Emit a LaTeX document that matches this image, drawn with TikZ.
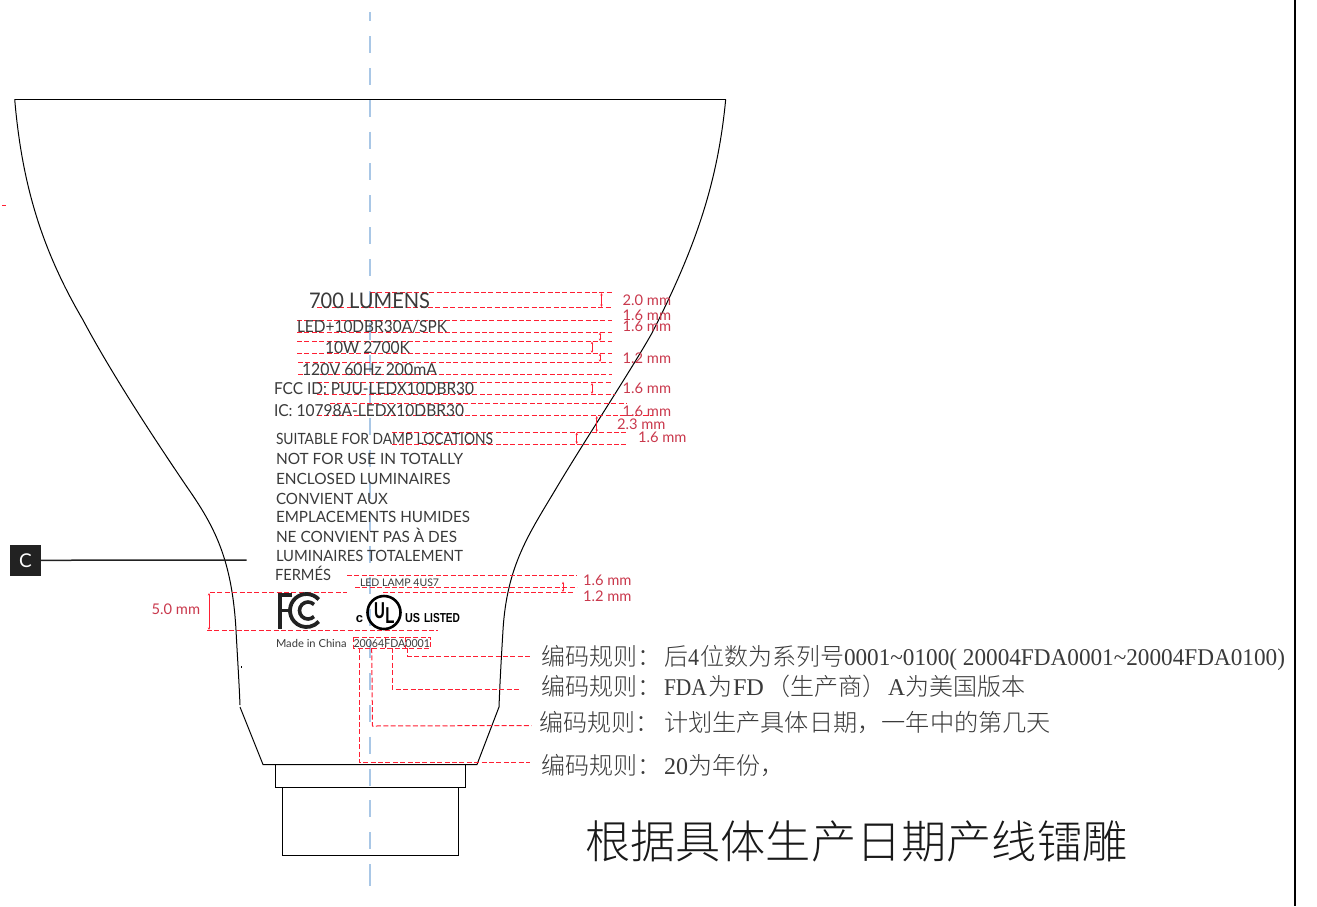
\documentclass[tikz,border=0pt]{standalone}
\usepackage{fontspec}
\usepackage{graphicx}
\setmainfont{Lato}
\newfontfamily\cjk{Noto Sans CJK SC Light}
\newfontfamily\serifl{Liberation Serif}
\newfontfamily\boldl{Liberation Sans}
\usetikzlibrary{arrows.meta}
\definecolor{dimred}{HTML}{FF1F33}
\definecolor{dimtext}{HTML}{C9384C}
\definecolor{labelgray}{HTML}{3A3A3A}
\definecolor{axisblue}{HTML}{A9C7E6}
\definecolor{cbox}{HTML}{222222}
\newcommand{\lat}[1]{{\serifl #1}}
\newcommand{\fw}[2]{\resizebox{#1pt}{\height}{#2}}
\tikzset{
  every node/.style={inner sep=0pt,outer sep=0pt},
  outline/.style={draw=black,line width=1pt},
  reddash/.style={draw=dimred,line width=1pt,dash pattern=on 5pt off 2.4pt},
  redtick/.style={draw=dimred,line width=0.9pt,{Stealth[length=2.6pt,width=2.4pt]}-{Stealth[length=2.6pt,width=2.4pt]}},
  axisdash/.style={draw=axisblue,line width=1.5pt},
  lab/.style={anchor=base west,text=labelgray,font=\fontsize{#1}{#1}\selectfont},
  dimlab/.style={anchor=base west,text=dimtext,font=\fontsize{14.7}{14.7}\selectfont},
  cn/.style={anchor=base west,text=labelgray,font=\fontsize{24}{24}\selectfont\cjk},
  ulbold/.style={font=\fontsize{#1}{#1}\selectfont\boldl\bfseries},
}
\begin{document}
\begin{tikzpicture}[x=1pt,y=-1pt]
\useasboundingbox (0,0) rectangle (1317,906);
% axis
\draw[axisdash] (370,12) -- (370,21);
\foreach \k in {0,...,25}{
  \draw[axisdash] (370,{36+31.85*\k}) -- (370,{53+31.85*\k});
}
\draw[axisdash] (370,864) -- (370,886);
% frame line
\draw[black,line width=2.4pt] (1295,0) -- (1295,906);
% bulb
\draw[outline] (14.7,99.3) -- (725.7,99.3);
\draw[outline] (14.7,99.3) .. controls (22,185) and (42,250) .. (83,320)
  .. controls (100,352) and (130,403) .. (187,487)
  .. controls (215,527) and (232,560) .. (236,630)
  .. controls (237.3,655) and (239,680) .. (240,705);
\draw[outline] (725.7,99.3) .. controls (718,180) and (697,245) .. (652,333)
  .. controls (630,372) and (585,440) .. (557,487)
  .. controls (529,534) and (507,565) .. (503,630)
  .. controls (501.5,655) and (500,680) .. (499,707);
\draw[outline] (240,707) -- (263,764.5) -- (477,764.5) -- (499,707);
\draw[outline] (241,666) -- (241,668);
\draw[outline] (275,764.5) -- (275,787) -- (465,787) -- (465,764.5);
\draw[outline] (282,787) -- (282,855) -- (458,855) -- (458,787);
% red dash rows: x1/x2/y
\foreach \a/\b/\y in {
 370/612/292.3, 317/612/307.3, 297/612/320.3, 297/612/332.3, 297/612/341.3, 297/612/353.3, 298/612/362.3, 298/612/374.3,
 317/612/382.7, 317/615/394.3, 330/627/403.3, 317/653/415.7, 392/627/432.3, 392/627/444,
 347/577/575, 355/577/587.3, 383/575/592.7, 210/347/592.7, 207/438/630}{
  \draw[reddash] (\a,\y) -- (\b,\y);
}
\draw[redtick] (601.5,293) -- (601.5,307);
\draw[redtick] (600,332.5) -- (600,341);
\draw[redtick] (592,341.5) -- (592,353);
\draw[redtick] (600,353.5) -- (600,362);
\draw[redtick] (592,383) -- (592,394);
\draw[redtick] (596.7,416) -- (596.7,432);
\draw[redtick] (576.7,432.5) -- (576.7,444);
\draw[redtick] (563,581.7) -- (563,592);
\draw[redtick] (209,593) -- (209,630);
\draw[draw=dimred,line width=1pt] (2,205.7) -- (6,205.7);
% code box and leaders
\draw[reddash] (353.5,637.3) rectangle (430.7,648);
\draw[reddash] (385.5,637.3) -- (385.5,648);
\draw[reddash] (405.8,637.3) -- (405.8,648);
\draw[reddash] (407.3,648) -- (407.3,656) -- (530,656);
\draw[reddash] (392.3,648) -- (392.3,689) -- (520,689);
\draw[reddash] (371.7,648) -- (372.5,726) -- (531.7,725.5);
\draw[reddash] (359.3,648) -- (359.3,762.5) -- (530,762.5);
% callout
\node[fill=cbox,text=white,minimum width=31pt,minimum height=31pt,font=\fontsize{19}{19}\selectfont] (cb) at (25.5,560.3) {C};
\coordinate (cend) at (246.7,560);
\draw[draw=cbox,line width=1.5pt] (cb) -- (cend);
% label text
\node[lab=21.5] (t1) at (309,308) {\fw{121}{700 LUMENS}};
\node[lab=16.5] (t2) at (297,332) {\fw{150}{LED+10DBR30A/SPK}};
\node[lab=16.5] (t3) at (325,353) {\fw{85}{10W 2700K}};
\node[lab=16.5] (t4) at (302,375) {\fw{135}{120V 60Hz 200mA}};
\node[lab=16.5] (t5) at (274,394) {\fw{200}{FCC ID: PUU-LEDX10DBR30}};
\node[lab=16.5] (t6) at (274,416) {\fw{190}{IC: 10798A-LEDX10DBR30}};
\node[lab=15.5] (t7) at (276,444) {\fw{217}{SUITABLE FOR DAMP LOCATIONS}};
\node[lab=15.5] (t8) at (276,464) {\fw{187}{NOT FOR USE IN TOTALLY}};
\node[lab=15.5] (t9) at (276,484.3) {\fw{174.5}{ENCLOSED LUMINAIRES}};
\node[lab=15.5] (t10) at (276,504) {\fw{112}{CONVIENT AUX}};
\node[lab=15.5] (t11) at (276,522.7) {\fw{194}{EMPLACEMENTS HUMIDES}};
\node[lab=15.5] (t12) at (276,542.3) {\fw{181}{NE CONVIENT PAS À DES}};
\node[lab=15.5] (t13) at (276,561) {\fw{187}{LUMINAIRES TOTALEMENT}};
\node[lab=15.5] (t14) at (275,580.7) {\fw{56}{FERMÉS}};
\node[lab=10.5] (t15) at (360,586) {\fw{79}{LED LAMP 4US7}};
\node[lab=11] (t16) at (276,647) {\fw{70.7}{Made in China}};
\node[lab=11] (t17) at (353.5,647) {\fw{76.5}{20064FDA0001}};
% dimension labels
\node[dimlab] (d1) at (622.7,305) {2.0 mm};
\node[dimlab] (d2) at (622.7,320) {1.6 mm};
\node[dimlab] (d3) at (622.7,331.7) {1.6 mm};
\node[dimlab] (d4) at (622.7,363.3) {1.2 mm};
\node[dimlab] (d5) at (622.7,393.3) {1.6 mm};
\node[dimlab] (d6) at (622.7,416) {1.6 mm};
\node[dimlab] (d7) at (617,429.3) {2.3 mm};
\node[dimlab] (d8) at (638,442.3) {1.6 mm};
\node[dimlab] (d9) at (583,585) {1.6 mm};
\node[dimlab] (d10) at (583,601.7) {1.2 mm};
\node[dimlab] (d11) at (151.7,614) {5.0 mm};
% FC logo
\fill[cbox] (277.8,593) rectangle (282,628.5);
\fill[cbox] (277.8,593) rectangle (292,596.6);
\fill[cbox] (277.8,608.5) rectangle (290,612);
\draw[draw=cbox,line width=3.8pt] (306.5,610.5) ++(-42:16.5) arc[start angle=-42,end angle=-318,radius=16.5];
\draw[draw=cbox,line width=3.6pt] (308,610.5) ++(-45:8.5) arc[start angle=-45,end angle=-315,radius=8.5];
% UL logo
\draw[draw=black,line width=2.6pt] (384,612.5) circle[radius=16.5];
\node[anchor=base,ulbold=20] (ulU) at (379.5,618) {\scalebox{.75}[1.15]{U}};
\node[anchor=base,ulbold=20] (ulL) at (390,623) {\scalebox{.75}[1.15]{L}};
\node[anchor=base,ulbold=13] (ulc) at (359.5,622) {c};
\node[anchor=base west,ulbold=13] (ulus) at (405,622) {\fw{15}{US}};
\node[anchor=base west,ulbold=13] (ulls) at (424,622) {\fw{36}{LISTED}};
% Chinese text
\node[cn] (c1a) at (541,665) {编码规则：};
\node[cn] (c1b) at (664,665) {后};
\node[cn] (c1c) at (688,665) {\lat{\fw{11}{4}}};
\node[cn] (c1d) at (700,665) {位数为系列号};
\node[cn] (c1e) at (844,665) {\lat{\fw{441}{0001\textasciitilde0100( 20004FDA0001\textasciitilde20004FDA0100)}}};
\node[cn] (c2a) at (541,695) {编码规则：};
\node[cn] (c2b) at (664,695) {\lat{\fw{43}{FDA}}};
\node[cn] (c2c) at (708,695) {为};
\node[cn] (c2d) at (733,695) {\lat{\fw{31}{FD}}};
\node[cn] (c2e) at (766,695) {（生产商）};
\node[cn] (c2f) at (888,695) {\lat{\fw{17}{A}}};
\node[cn] (c2g) at (905,695) {为美国版本};
\node[cn] (c3a) at (539,731) {编码规则：};
\node[cn] (c3b) at (664,731) {\fw{387}{计划生产具体日期，一年中的第几天}};
\node[cn] (c4a) at (541,774) {编码规则：};
\node[cn] (c4b) at (664,774) {\lat{\fw{24}{20}}};
\node[cn] (c4c) at (688,774) {为年份，};
\node[anchor=base west,text=black!90,font=\fontsize{45.2}{45.2}\selectfont\cjk] (c5) at (585,858) {根据具体生产日期产线镭雕};
\end{tikzpicture}
\end{document}
